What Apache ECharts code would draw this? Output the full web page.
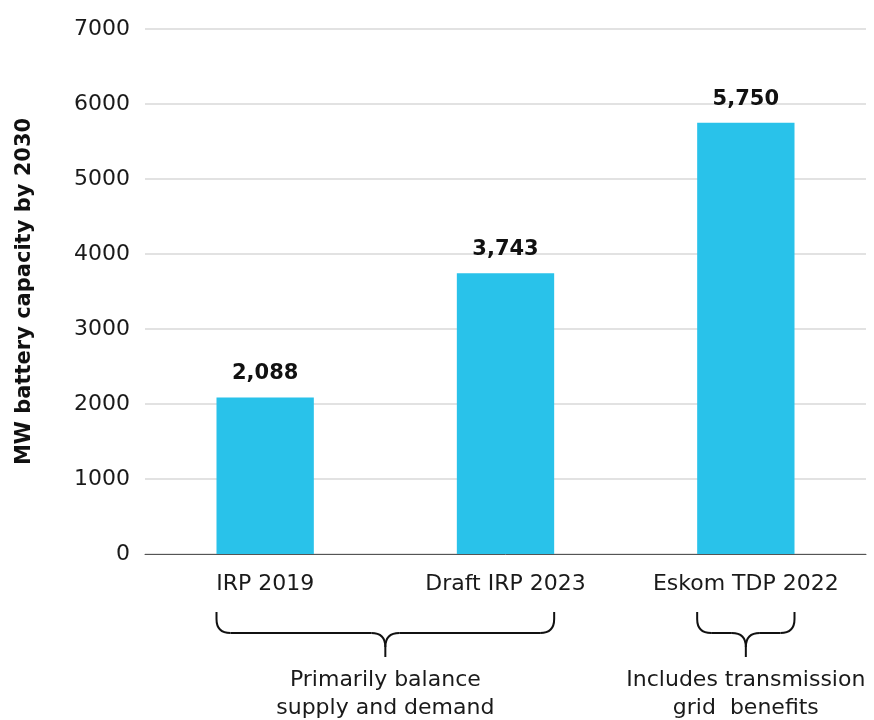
<!DOCTYPE html>
<html>
<head>
<meta charset="utf-8">
<script src="https://cdn.jsdelivr.net/npm/echarts@6/dist/echarts.min.js"></script>
<style>
  html, body { margin: 0; padding: 0; background: #fff; }
  #chart { width: 874px; height: 720px; }
</style>
</head>
<body>
<div id="chart"></div>
<script>
// Planned battery storage capacity by 2030 (MW)
const categories = ['IRP 2019', 'Draft IRP 2023', 'Eskom TDP 2022'];
const capacityMW = [2088, 3743, 5750];
const yTicks = [0, 1000, 2000, 3000, 4000, 5000, 6000, 7000];

// Bracket groups: [first category index, last category index, caption]
const groups = [
  [0, 1, 'Primarily balance\nsupply and demand'],
  [2, 2, 'Includes transmission\ngrid  benefits']
];

const FONT = '"DejaVu Sans", "Noto Sans", sans-serif';
const BAR_COLOR = '#29C2EA';
const BAR_WIDTH_FRAC = 0.405;

const chart = echarts.init(document.getElementById('chart'), null, { renderer: 'canvas' });

chart.setOption({
  animation: false,
  textStyle: { fontFamily: FONT },
  grid: { left: 145, right: 8, top: 29, bottom: 166, containLabel: false },
  xAxis: {
    type: 'category',
    data: categories,
    axisLine: { lineStyle: { color: '#555', width: 1 } },
    axisTick: { show: false },
    axisLabel: {
      interval: 0, hideOverlap: false,
      color: '#1a1a1a', fontSize: 22, margin: 19, fontFamily: FONT
    }
  },
  yAxis: {
    type: 'value',
    min: yTicks[0],
    max: yTicks[yTicks.length - 1],
    interval: 1000,
    name: 'MW battery capacity by 2030',
    nameLocation: 'middle',
    nameGap: 110,
    nameTextStyle: { color: '#111', fontSize: 21, fontWeight: 'bold', fontFamily: FONT },
    axisLine: { show: false },
    axisTick: { show: false },
    axisLabel: {
      color: '#1a1a1a', fontSize: 22, margin: 15, fontFamily: FONT,
      formatter: v => String(v)
    },
    splitLine: { lineStyle: { color: '#d9d9d9', width: 1.5 } }
  },
  series: [{
    type: 'bar',
    data: capacityMW,
    barWidth: (BAR_WIDTH_FRAC * 100) + '%',
    itemStyle: { color: BAR_COLOR },
    label: {
      show: true,
      position: 'top',
      distance: 13,
      color: '#111',
      fontSize: 21,
      fontWeight: 'bold',
      fontFamily: FONT,
      formatter: p => p.value.toLocaleString('en-US')
    }
  }]
});

// Curly brackets under the category labels, positioned from the axis scale
function braceParts(id, x1, x2, yTop, yMid, yTip) {
  const mid = (x1 + x2) / 2;
  const r = 14;
  const style = { stroke: '#111', lineWidth: 2, fill: null };
  const line = (k, a, b, c, d) => ({ type: 'line', id: id + k, shape: { x1: a, y1: b, x2: c, y2: d }, style });
  const curve = (k, a, b, cx, cy, c, d) => ({
    type: 'bezierCurve', id: id + k,
    shape: { x1: a, y1: b, cpx1: cx, cpy1: cy, x2: c, y2: d }, style
  });
  return [
    line('l0', x1, yTop, x1, yMid - r),
    curve('c0', x1, yMid - r, x1, yMid, x1 + r, yMid),
    line('l1', x1 + r, yMid, mid - r, yMid),
    curve('c1', mid - r, yMid, mid, yMid, mid, yMid + r),
    line('l2', mid, yMid + r, mid, yTip),
    curve('c2', mid, yMid + r, mid, yMid, mid + r, yMid),
    line('l3', mid + r, yMid, x2 - r, yMid),
    curve('c3', x2 - r, yMid, x2, yMid, x2, yMid - r),
    line('l4', x2, yMid - r, x2, yTop)
  ];
}

function drawBraces() {
  const c0 = chart.convertToPixel({ xAxisIndex: 0 }, 0);
  const c1 = chart.convertToPixel({ xAxisIndex: 0 }, 1);
  const band = c1 - c0;
  const halfBar = band * BAR_WIDTH_FRAC / 2;
  let elements = [];
  groups.forEach((g, i) => {
    const xa = chart.convertToPixel({ xAxisIndex: 0 }, g[0]) - halfBar;
    const xb = chart.convertToPixel({ xAxisIndex: 0 }, g[1]) + halfBar;
    elements = elements.concat(braceParts('brace' + i, xa, xb, 612, 633, 657));
    elements.push({
      type: 'text',
      id: 'cap' + i,
      x: (xa + xb) / 2,
      y: 666,
      style: {
        text: g[2],
        fill: '#1a1a1a',
        font: '22px ' + FONT,
        textAlign: 'center',
        textVerticalAlign: 'top',
        lineHeight: 28
      }
    });
  });
  chart.setOption({ graphic: { elements } });
}
drawBraces();
</script>
</body>
</html>
